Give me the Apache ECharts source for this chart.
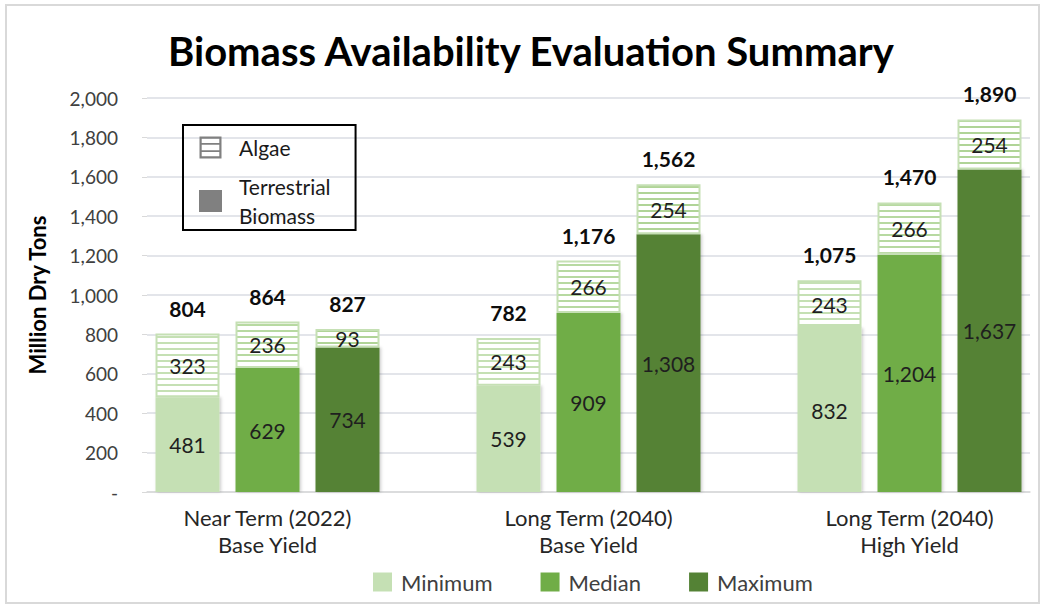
<!DOCTYPE html>
<html>
<head>
<meta charset="utf-8">
<title>Biomass Availability Evaluation Summary</title>
<script src="https://cdn.jsdelivr.net/npm/echarts@6/dist/echarts.min.js"></script>
<style>
  html, body { margin: 0; padding: 0; background: #fff; }
  #chart { width: 1043px; height: 605px; }
</style>
</head>
<body>
<div id="chart"></div>
<script>
// scenarios on the x axis
var categories = ['Near Term (2022)\nBase Yield', 'Long Term (2040)\nBase Yield', 'Long Term (2040)\nHigh Yield'];
var levels = ['Minimum', 'Median', 'Maximum'];

// million dry tons, one value per scenario
var terrestrialMin = [481, 539, 832];
var terrestrialMed = [629, 909, 1204];
var terrestrialMax = [734, 1308, 1637];
var algaeMin = [323, 243, 243];
var algaeMed = [236, 266, 266];
var algaeMax = [93, 254, 254];
// totals as printed on the chart
var totalMin = [804, 782, 1075];
var totalMed = [864, 1176, 1470];
var totalMax = [827, 1562, 1890];

// y axis ticks
var yMin = 0;
var yMax = 2000;
var yStep = 200;

var FONT = 'Lato, "Open Sans", sans-serif';
var fillColors = ['#c5e0b4', '#70ad47', '#548235'];
var stripeColors = ['#c5e0b4', '#b7d9a1', '#b0d497'];

var chart = echarts.init(document.getElementById('chart'), null, { renderer: 'svg' });

function fmt(v) {
  return v === 0 ? '-' : v.toLocaleString('en-US');
}

// white with thin horizontal lines, like the excel "narrow horizontal" fill
function stripes(color) {
  var c = document.createElement('canvas');
  c.width = 8;
  c.height = 6;
  var ctx = c.getContext('2d');
  ctx.fillStyle = '#ffffff';
  ctx.fillRect(0, 0, 8, 6);
  ctx.fillStyle = color;
  ctx.fillRect(0, 0, 8, 2);
  return { image: c.toDataURL(), repeat: 'repeat' };
}

function levelSeries(i, terr, algae, total) {
  var stack = 'lvl' + i;
  var common = {
    type: 'bar',
    xAxisIndex: 1,
    yAxisIndex: 1,
    stack: stack,
    barWidth: 64,
    barGap: '25%',
    clip: false
  };
  return [
    Object.assign({}, common, {
      name: levels[i],
      data: terr,
      itemStyle: {
        color: fillColors[i],
        shadowBlur: 3,
        shadowOffsetX: 1.5,
        shadowColor: 'rgba(0,0,0,0.2)'
      },
      label: {
        show: true, position: 'inside', fontFamily: FONT, fontSize: 21, color: '#1f1f1f',
        formatter: function (p) { return fmt(p.value); }
      }
    }),
    Object.assign({}, common, {
      name: levels[i] + ' Algae',
      data: algae,
      itemStyle: {
        color: stripes(stripeColors[i]),
        borderColor: '#c5e0b4',
        borderWidth: 2
      },
      label: {
        show: true, position: 'inside', fontFamily: FONT, fontSize: 21, color: '#1f1f1f',
        formatter: function (p) { return fmt(p.value); }
      }
    }),
    Object.assign({}, common, {
      name: levels[i] + ' Total',
      data: [0, 0, 0],
      itemStyle: { color: 'rgba(0,0,0,0)' },
      label: {
        show: true, position: 'top', distance: 15, fontFamily: FONT, fontSize: 21,
        fontWeight: 'bold', color: '#0d0d0d',
        formatter: function (p) { return fmt(total[p.dataIndex]); }
      }
    })
  ];
}

var series = []
  .concat(levelSeries(0, terrestrialMin, algaeMin, totalMin))
  .concat(levelSeries(1, terrestrialMed, algaeMed, totalMed))
  .concat(levelSeries(2, terrestrialMax, algaeMax, totalMax));

// empty series only used by the boxed legend
series.push({
  type: 'bar', name: 'Algae', xAxisIndex: 0, yAxisIndex: 0, data: [],
  itemStyle: { color: '#808080' }
});
series.push({
  type: 'bar', name: 'Terrestrial\nBiomass', xAxisIndex: 0, yAxisIndex: 0, data: [],
  itemStyle: { color: '#808080' }
});

var option = {
  backgroundColor: '#ffffff',
  animation: false,
  title: {
    text: 'Biomass Availability Evaluation Summary',
    left: 168,
    top: 31,
    padding: 0,
    textStyle: { fontFamily: FONT, fontSize: 40, fontWeight: 'bold', color: '#000' }
  },
  graphic: [{
    type: 'rect',
    shape: { x: 6, y: 5, width: 1033, height: 598 },
    style: { fill: 'none', stroke: '#d9d9d9', lineWidth: 2 },
    silent: true
  }],
  legend: [{
    data: levels,
    left: 373,
    top: 571,
    itemWidth: 19,
    itemHeight: 19,
    itemGap: 48,
    icon: 'rect',
    padding: 0,
    textStyle: { fontFamily: FONT, fontSize: 22, color: '#404040', padding: [0, 0, 0, 4] }
  }, {
    data: [
      { name: 'Algae', icon: 'path://M0,0H20V2H0Z M0,18H20V20H0Z M0,0H2V20H0Z M18,0H20V20H18Z M0,6H20V7.5H0Z M0,12.5H20V14H0Z' },
      { name: 'Terrestrial\nBiomass', icon: 'rect' }
    ],
    orient: 'vertical',
    left: 183,
    top: 125,
    itemWidth: 23,
    itemHeight: 22,
    itemGap: 10,
    padding: [8, 25, 0, 16],
    borderColor: '#000',
    borderWidth: 2,
    textStyle: { fontFamily: FONT, fontSize: 21, color: '#1a1a1a', lineHeight: 29, padding: [0, 0, 0, 12] }
  }],
  grid: [
    { left: 147, right: 13, top: 98, bottom: 113 },
    // point-style category axis: first and last scenario sit on the grid edges
    { left: 267.5, right: 133.5, top: 98, bottom: 113 }
  ],
  xAxis: [{
    gridIndex: 0,
    type: 'category',
    data: [''],
    axisLine: { show: true, lineStyle: { color: '#d9d9d9', width: 1.5 } },
    axisTick: { show: false },
    axisLabel: { show: false }
  }, {
    gridIndex: 1,
    type: 'category',
    boundaryGap: false,
    data: categories,
    axisLine: { show: false },
    axisTick: { show: false },
    axisLabel: {
      fontFamily: FONT, fontSize: 22, color: '#262626', lineHeight: 27, margin: 12
    }
  }],
  yAxis: [{
    gridIndex: 0,
    type: 'value',
    min: yMin,
    max: yMax,
    interval: yStep,
    name: 'Million Dry Tons',
    nameLocation: 'middle',
    nameGap: 99,
    nameTextStyle: { fontFamily: FONT, fontSize: 22, fontWeight: 'bold', color: '#000' },
    axisLine: { show: false },
    axisTick: { show: true, length: 5, lineStyle: { color: '#d9d9d9' } },
    splitLine: { lineStyle: { color: '#dadde3', width: 1.5 } },
    axisLabel: {
      fontFamily: FONT, fontSize: 19, color: '#404040', margin: 29,
      formatter: fmt
    }
  }, {
    gridIndex: 1,
    type: 'value',
    min: yMin,
    max: yMax,
    interval: yStep,
    show: false,
    splitLine: { show: false }
  }],
  series: series
};

chart.setOption(option);
</script>
</body>
</html>
